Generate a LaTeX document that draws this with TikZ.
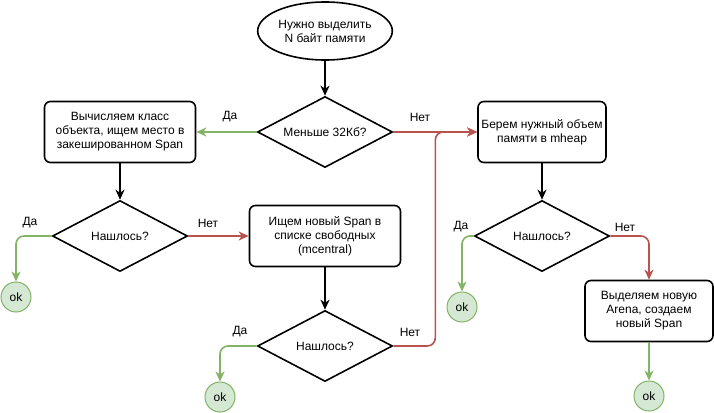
\documentclass[tikz,border=0pt]{standalone}
\usepackage{fontspec}
\setmainfont{Liberation Sans}
\usetikzlibrary{shapes.geometric,arrows.meta,positioning}
\definecolor{okgreen}{HTML}{82B366}
\definecolor{okfill}{HTML}{D5E8D4}
\definecolor{nored}{HTML}{B85450}

\begin{document}
\begin{tikzpicture}[x=1pt,y=-1pt,
  font=\fontsize{12}{14}\selectfont,
  base/.style={draw,line width=1.6pt},
  startnode/.style={base,ellipse,minimum width=130,minimum height=58,align=center,inner sep=1pt},
  stepbox/.style={base,rounded corners=6pt,minimum width=151,minimum height=61,align=center,inner sep=1pt},
  ask/.style={base,diamond,aspect=2,minimum width=135,minimum height=71,inner sep=1pt},
  ok/.style={circle,draw=okgreen,fill=okfill,line width=1pt,minimum size=30,inner sep=0pt},
  flow/.style={line width=1.6pt,-{Stealth[length=10pt,width=9pt,inset=3pt]}},
  yes/.style={flow,draw=okgreen,rounded corners=8pt},
  no/.style={flow,draw=nored,rounded corners=8pt},
  lbl/.style={inner sep=0pt}]
  \useasboundingbox (0,0) rectangle (714,412);

  % blocks
  \node[startnode] (start) at (325,31) {Нужно выделить\\N байт памяти};
  \node[ask] (small) at (325,132) {Меньше 32Кб?};
  \node[stepbox] (cache) at (120,132) {Вычисляем класс\\объекта, ищем место в\\закешированном Span};
  \node[stepbox,minimum width=128] (heap) at (542,132) {Берем нужный объем\\памяти в mheap};
  \node[ask] (found1) at (120,236) {Нашлось?};
  \node[stepbox] (central) at (325,236) {Ищем новый Span в\\списке свободных\\(mcentral)};
  \node[ask] (found2) at (325,346) {Нашлось?};
  \node[ask] (found3) at (542,236) {Нашлось?};
  \node[stepbox,minimum width=128] (arena) at (649,311) {Выделяем новую\\Arena, создаем\\новый Span};

  % ok
  \node[ok] (ok1) at (16,297) {ok};
  \node[ok] (ok2) at (220,397) {ok};
  \node[ok] (ok3) at (462,307) {ok};
  \node[ok] (ok4) at (649,396) {ok};

  % arrows
  \draw[flow] (start) -- (small);
  \draw[yes] (small.west) -- (cache.east);
  \draw[no] (small.east) -- (heap.west);
  \draw[flow] (cache) -- (found1);
  \draw[yes] (found1.west) -| (ok1.north);
  \draw[no] (found1.east) -- (central.west);
  \draw[flow] (central) -- (found2);
  \draw[yes] (found2.west) -| (ok2.north);
  \draw[no] (found2.east) -- ++(42,0) |- (heap.west);
  \draw[flow] (heap) -- (found3);
  \draw[yes] (found3.west) -| (ok3.north);
  \draw[no] (found3.east) -| (arena.north);
  \draw[yes] (arena) -- (ok4);

  % labels
  \node[lbl] (y0) at (230,117) {Да};
  \node[lbl] (n0) at (420,117) {Нет};
  \node[lbl] (y1) at (30,223) {Да};
  \node[lbl] (n1) at (208,223) {Нет};
  \node[lbl] (y2) at (240,332) {Да};
  \node[lbl] (n2) at (410,332) {Нет};
  \node[lbl] (y3) at (461,227) {Да};
  \node[lbl] (n3) at (625,227) {Нет};
\end{tikzpicture}
\end{document}
